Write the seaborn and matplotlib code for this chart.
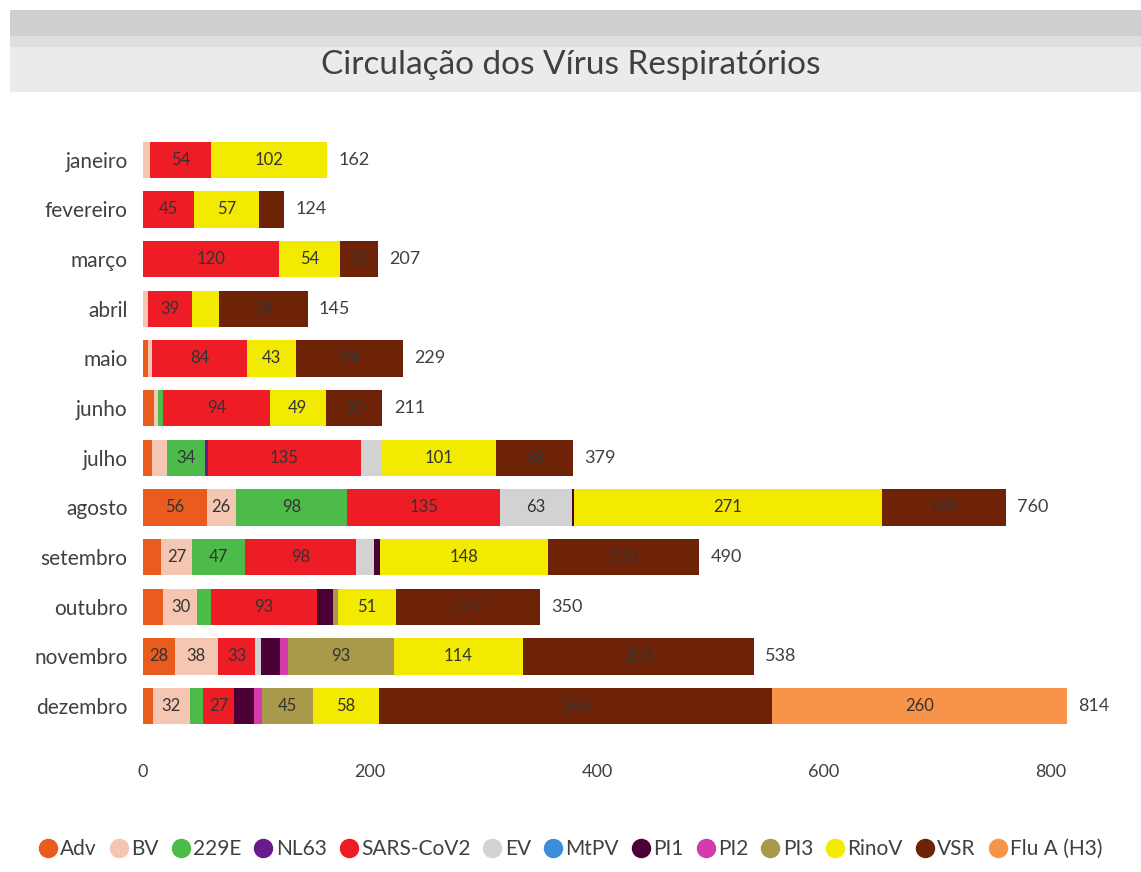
import seaborn as sns
import pandas as pd
import matplotlib.pyplot as plt
import numpy as np
from matplotlib.lines import Line2D
from matplotlib.patches import Rectangle

months = ['janeiro', 'fevereiro', 'março', 'abril', 'maio', 'junho',
          'julho', 'agosto', 'setembro', 'outubro', 'novembro', 'dezembro']
viruses = ['Adv', 'BV', '229E', 'NL63', 'SARS-CoV2', 'EV', 'MtPV',
           'PI1', 'PI2', 'PI3', 'RinoV', 'VSR', 'Flu A (H3)']
colors = ['#EA5B1E', '#F5C6B2', '#4DBB4A', '#6A1B8A', '#EE1C25', '#D2D2D2', '#3A8FD8',
          '#4B0036', '#D63AAF', '#A89A4A', '#F2EA00', '#6E2308', '#F7944A']

adv = [0, 0, 0, 0, 4, 10, 8, 56, 16, 18, 28, 9]
bv = [6, 0, 0, 4, 4, 3, 13, 26, 27, 30, 38, 32]
c229e = [0, 0, 0, 0, 0, 5, 34, 98, 47, 12, 0, 12]
nl63 = [0, 0, 0, 0, 0, 0, 2, 0, 0, 0, 0, 0]
sars = [54, 45, 120, 39, 84, 94, 135, 135, 98, 93, 33, 27]
ev = [0, 0, 0, 0, 0, 0, 18, 63, 16, 0, 5, 0]
mtpv = [0, 0, 0, 0, 0, 0, 0, 0, 0, 0, 0, 0]
pi1 = [0, 0, 0, 0, 0, 0, 0, 2, 5, 14, 17, 18]
pi2 = [0, 0, 0, 0, 0, 0, 0, 0, 0, 0, 7, 7]
pi3 = [0, 0, 0, 0, 0, 0, 0, 0, 0, 5, 93, 45]
rinov = [102, 57, 54, 24, 43, 49, 101, 271, 148, 51, 114, 58]
vsr = [0, 22, 33, 78, 94, 50, 68, 109, 133, 127, 203, 346]
flua = [0, 0, 0, 0, 0, 0, 0, 0, 0, 0, 0, 260]

series = [adv, bv, c229e, nl63, sars, ev, mtpv, pi1, pi2, pi3, rinov, vsr, flua]

df = pd.DataFrame({v: s for v, s in zip(viruses, series)})
df.insert(0, 'mes', months)
cum = df[viruses].cumsum(axis=1)
totals = cum[viruses[-1]]

sns.set_style('white')
plt.rcParams['font.family'] = ['Lato', 'DejaVu Sans']

fig = plt.figure(figsize=(11.41, 8.72), dpi=100)

# faixa cinzenta do título
fig.add_artist(Rectangle((0.009, 0.895), 0.991, 0.093, transform=fig.transFigure,
                         facecolor='#ebebeb', edgecolor='none', zorder=0))
fig.add_artist(Rectangle((0.009, 0.958), 0.991, 0.030, transform=fig.transFigure,
                         facecolor='#cfcfcf', edgecolor='none', zorder=0))
fig.add_artist(Rectangle((0.009, 0.946), 0.991, 0.013, transform=fig.transFigure,
                         facecolor='#dfdfdf', edgecolor='none', zorder=0))
fig.text(0.5, 0.925, 'Circulação dos Vírus Respiratórios', ha='center', va='center',
         fontsize=24, color='#404040')

ax = fig.add_axes([0.1253, 0.1617, 0.8455, 0.6835])

# barras empilhadas: desenha os acumulados do maior para o menor
for v, c in reversed(list(zip(viruses, colors))):
    sns.barplot(data=cum.assign(mes=months), x=v, y='mes', color=c, orient='h',
                width=0.73, saturation=1, linewidth=0, ax=ax)

for i in range(len(months)):
    for v in viruses:
        val = df.loc[i, v]
        if val >= 25:
            ax.text(cum.loc[i, v] - val / 2, i, str(val), ha='center', va='center',
                    fontsize=12, color='#333333')
    ax.text(totals[i] + 10, i, str(totals[i]), ha='left', va='center',
            fontsize=13, color='#404040')

ax.set_xlim(0, 850)
ax.set_ylim(11.5, -0.5)
ax.set_xticks(range(0, 801, 200))
ax.set_xlabel('')
ax.set_ylabel('')
ax.tick_params(axis='x', length=0, pad=24, labelsize=13, labelcolor='#404040')
ax.tick_params(axis='y', length=0, pad=11, labelsize=15, labelcolor='#404040')
sns.despine(ax=ax, left=True, bottom=True)

handles = [Line2D([0], [0], marker='o', linestyle='', markersize=13,
                  markerfacecolor=c, markeredgecolor=c) for c in colors]
fig.legend(handles, viruses, loc='center', bbox_to_anchor=(0.5, 0.026), ncol=13,
           frameon=False, fontsize=15, handlelength=0.9, handletextpad=0.15,
           columnspacing=0.6, borderpad=0.2, labelcolor='#404040')

fig.savefig('out.png', dpi=100)
